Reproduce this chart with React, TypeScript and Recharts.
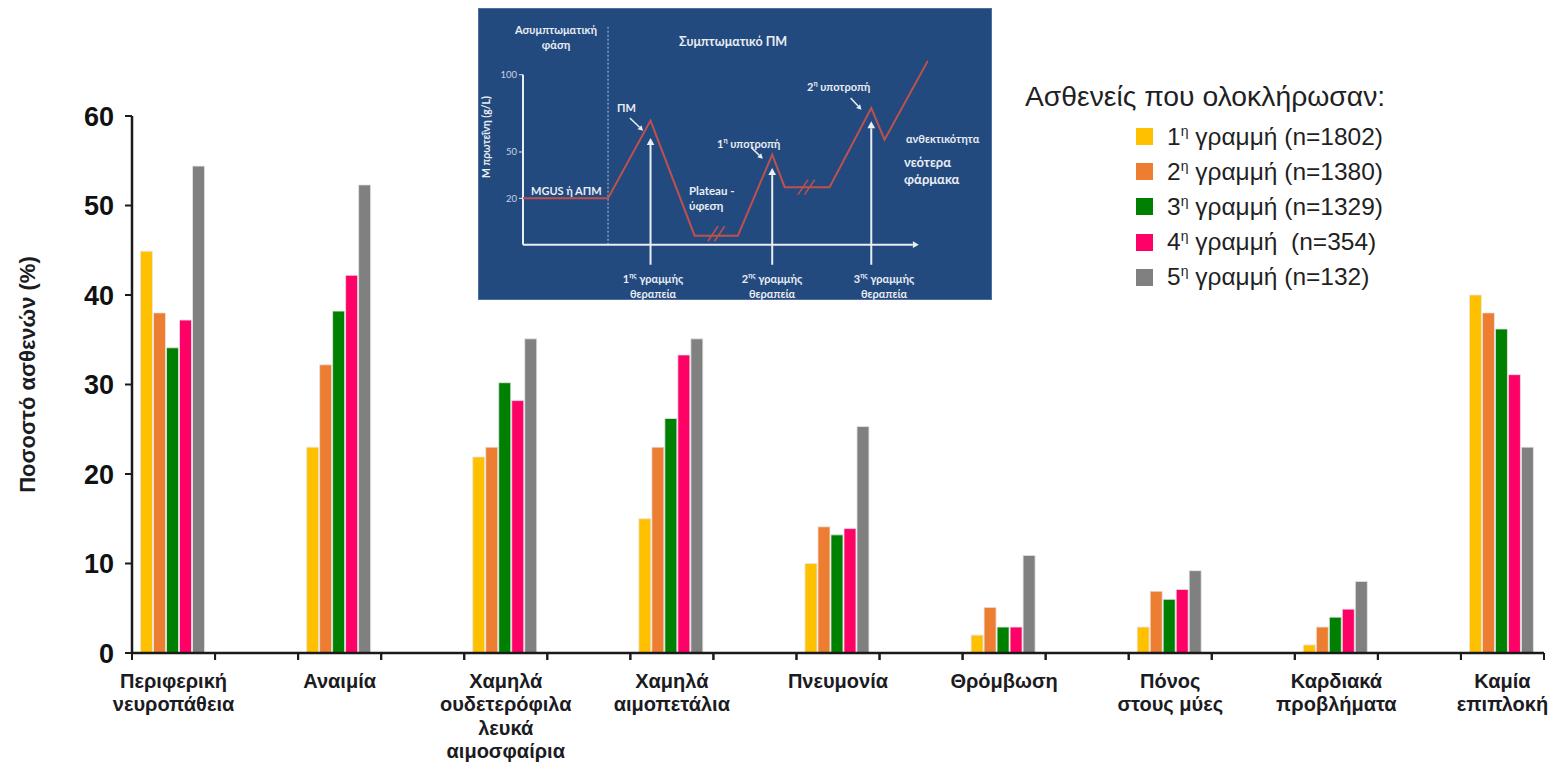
import React from 'react';
import { BarChart, Bar, XAxis, YAxis, LineChart, Line, ReferenceLine } from 'recharts';

// main chart data
const categories = [
  'Περιφερική\nνευροπάθεια',
  'Αναιμία',
  'Χαμηλά\nουδετερόφιλα\nλευκά\nαιμοσφαίρια',
  'Χαμηλά\nαιμοπετάλια',
  'Πνευμονία',
  'Θρόμβωση',
  'Πόνος\nστους μύες',
  'Καρδιακά\nπροβλήματα',
  'Καμία\nεπιπλοκή',
];
const line1 = [44.9, 23, 21.9, 15, 10, 2, 2.9, 0.9, 40];
const line2 = [38, 32.2, 23, 23, 14.1, 5.1, 6.9, 2.9, 38];
const line3 = [34.1, 38.2, 30.2, 26.2, 13.2, 2.9, 6, 4, 36.2];
const line4 = [37.2, 42.2, 28.2, 33.3, 13.9, 2.9, 7.1, 4.9, 31.1];
const line5 = [54.4, 52.3, 35.1, 35.1, 25.3, 10.9, 9.2, 8, 23];
const yTicks = [0, 10, 20, 30, 40, 50, 60];

const seriesKeys = ['s1', 's2', 's3', 's4', 's5'];
const seriesOrd = ['1', '2', '3', '4', '5'];
const seriesN = ['(n=1802)', '(n=1380)', '(n=1329)', ' (n=354)', '(n=132)'];
const seriesColors = ['#FFC000', '#ED7D31', '#008000', '#FF0066', '#808080'];
const seriesValues = [line1, line2, line3, line4, line5];

// inset (schematic of disease course)
const insetTime = [0, 21.8, 32.7, 44, 55.1, 63.9, 67.1, 78.6, 89.3, 92.7, 103.8];
const insetLevel = [20, 20, 70.3, -4.2, -4.2, 48.3, 27.2, 27.2, 78.5, 58, 109];
const insetTicks = [20, 50, 100];
const therapyTimes = [32.7, 63.9, 89.3];
const therapyTops = [59.1, 39.6, 69.9];
const pointerFrom = [[27.4, 72], [58.5, 53], [84, 85]];
const pointerTo = [[30.8, 63.8], [61.5, 45.7], [86.8, 77.4]];
const breakMarks = [[47.4, -7.8, 50, 1.9], [49.1, -7.8, 51.7, 1.9], [70.5, 22.4, 73.1, 32.1], [72.2, 22.4, 74.8, 32.1]];

// 17 slots: data groups with empty spacer slots between
const barData: any[] = [];
categories.forEach((c, i) => {
  const row: any = { name: c };
  seriesKeys.forEach((k, j) => (row[k] = seriesValues[j][i]));
  barData.push(row);
  if (i < categories.length - 1) barData.push({ name: '_' + i });
});

const insetData = insetTime.map((t, i) => ({ t, p: insetLevel[i] }));

const FONT = '"Liberation Sans", Arial, sans-serif';
const INSET_FONT = 'Lato, "Open Sans", sans-serif';
const AXIS = '#1a1a1a';
const WHITE = '#e9edf4';
const BAND = (1550 - 132 - 6) / 17;

// category label plus tick marks on both band edges
const CatTick = (props: any) => {
  const { x, y, payload } = props;
  const v = String(payload.value);
  const half = payload && payload.offset ? payload.offset : BAND / 2;
  const marks = (
    <g>
      <line x1={x - half} x2={x - half} y1={y} y2={y + 7} stroke={AXIS} strokeWidth={2} />
      <line x1={x + half} x2={x + half} y1={y} y2={y + 7} stroke={AXIS} strokeWidth={2} />
    </g>
  );
  if (v.startsWith('_')) return marks;
  const lines = v.split('\n');
  return (
    <g>
      {marks}
      <text x={x} y={y + 35} textAnchor="middle" fontFamily={FONT} fontSize={20} fontWeight="bold" fill="#1b1b22">
        {lines.map((l, i) => (
          <tspan key={i} x={x} dy={i === 0 ? 0 : 23.3}>{l}</tspan>
        ))}
      </text>
    </g>
  );
};

const YLabel = (props: any) => {
  const vb = props.viewBox || {};
  const cx = 27;
  const cy = vb.y + vb.height / 2 - 10;
  return (
    <text x={cx} y={cy} transform={`rotate(-90 ${cx} ${cy})`} textAnchor="middle" dominantBaseline="central"
      fontFamily={FONT} fontSize={22} fontWeight="bold" fill="#1b1b22">
      Ποσοστό ασθενών (%)
    </text>
  );
};

const LegendBox = () => (
  <div style={{ position: 'absolute', left: 1025, top: 80, fontFamily: FONT, color: '#1f1f24' }}>
    <div style={{ fontSize: 28.3, lineHeight: '32px', marginBottom: 7 }}>Ασθενείς που ολοκλήρωσαν:</div>
    {seriesKeys.map((k, i) => (
      <div key={k} style={{ display: 'flex', alignItems: 'center', height: 35.2, marginLeft: 111 }}>
        <span style={{ width: 17, height: 17, background: seriesColors[i], display: 'inline-block', marginRight: 14 }} />
        <span style={{ fontSize: 24.5, whiteSpace: 'pre' }}>
          {seriesOrd[i]}
          <sup style={{ fontSize: 14 }}>η</sup>
          {' γραμμή ' + seriesN[i]}
        </span>
      </div>
    ))}
  </div>
);

const arrowShape = (color: string, w: number, head: number) => (p: any) => {
  const { x1, y1, x2, y2 } = p;
  const a = Math.atan2(y2 - y1, x2 - x1);
  const bx = x2 - head * Math.cos(a);
  const by = y2 - head * Math.sin(a);
  const hw = head * 0.55;
  const pts = `${x2},${y2} ${bx + hw * Math.sin(a)},${by - hw * Math.cos(a)} ${bx - hw * Math.sin(a)},${by + hw * Math.cos(a)}`;
  return (
    <g>
      <line x1={x1} y1={y1} x2={bx} y2={by} stroke={color} strokeWidth={w} />
      <polygon points={pts} fill={color} />
    </g>
  );
};

const txt = (left: number, top: number, size: number, lh: number, extra: any = {}) => ({
  position: 'absolute' as const, left, top, fontSize: size, fontWeight: 'bold' as const, color: WHITE,
  fontFamily: INSET_FONT, lineHeight: lh + 'px', whiteSpace: 'nowrap' as const, ...extra,
});
const center = { transform: 'translateX(-50%)', textAlign: 'center' };

const Inset = () => (
  <div style={{ position: 'absolute', left: 478, top: 8, width: 514, height: 292, background: '#234a7e', boxSizing: 'border-box', border: '1px solid #4f6f9c' }}>
    <div style={{ position: 'absolute', left: -1, top: -1 }}>
      <LineChart width={514} height={292} data={insetData} margin={{ top: 12.7, right: 63.4, bottom: 33.7, left: 0 }}>
        <XAxis dataKey="t" type="number" domain={[0, 104]} hide allowDataOverflow />
        <YAxis type="number" domain={[-24, 135]} allowDataOverflow ticks={insetTicks} width={45} axisLine={false}
          tickSize={4} tickLine={{ stroke: WHITE }} tick={{ fill: '#c9d2e2', fontSize: 9.5, fontFamily: INSET_FONT }} />
        <ReferenceLine segment={[{ x: 21.8, y: -10 }, { x: 21.8, y: 131 }]} stroke="#b9c6da" strokeWidth={1} strokeDasharray="2 2" />
        <ReferenceLine segment={[{ x: 0, y: -10 }, { x: 0, y: 100 }]} stroke={WHITE} strokeWidth={2} />
        <ReferenceLine segment={[{ x: 0, y: -10 }, { x: 101.5, y: -10 }]} shape={arrowShape(WHITE, 2, 6)} />
        {therapyTimes.map((t, i) => (
          <ReferenceLine key={'th' + i} segment={[{ x: t, y: -23 }, { x: t, y: therapyTops[i] }]} shape={arrowShape(WHITE, 2, 7)} />
        ))}
        {pointerFrom.map((f, i) => (
          <ReferenceLine key={'pt' + i} segment={[{ x: f[0], y: f[1] }, { x: pointerTo[i][0], y: pointerTo[i][1] }]} shape={arrowShape(WHITE, 1.5, 5)} />
        ))}
        <Line dataKey="p" type="linear" stroke="#c0504d" strokeWidth={2} dot={false} isAnimationActive={false} />
        {breakMarks.map((b, i) => (
          <ReferenceLine key={'bk' + i} segment={[{ x: b[0], y: b[1] }, { x: b[2], y: b[3] }]} stroke="#c0504d" strokeWidth={1.5} />
        ))}
      </LineChart>
    </div>
    <div style={txt(77, 12.5, 11, 15, center)}>Ασυμπτωματική<br />φάση</div>
    <div style={txt(200, 25, 12.5, 16)}>Συμπτωματικό ΠΜ</div>
    <div style={txt(7, 128, 10.5, 12, { transform: 'translate(-50%, -50%) rotate(-90deg)' })}>M πρωτεΐνη (g/L)</div>
    <div style={txt(52, 174, 11, 16)}>MGUS ή ΑΠΜ</div>
    <div style={txt(138, 91, 11, 16)}>ΠΜ</div>
    <div style={txt(210, 174, 11.5, 15)}>Plateau -<br />ύφεση</div>
    <div style={txt(238, 122.7, 11, 16)}>1<sup style={{ fontSize: 7 }}>η</sup> υποτροπή</div>
    <div style={txt(328, 66, 11, 16)}>2<sup style={{ fontSize: 7 }}>η</sup> υποτροπή</div>
    <div style={txt(427, 121.7, 11, 16)}>ανθεκτικότητα</div>
    <div style={txt(425, 144.8, 13, 17)}>νεότερα<br />φάρμακα</div>
    {therapyTimes.map((t, i) => (
      <div key={'tl' + i} style={txt([174, 293, 405][i], 259, 11, 15, center)}>
        {i + 1}<sup style={{ fontSize: 7 }}>ης</sup> γραμμής<br />θεραπεία
      </div>
    ))}
  </div>
);

export default function App() {
  return (
    <div style={{ position: 'absolute', left: 0, top: 0, width: 1550, height: 763, background: '#fff', overflow: 'hidden' }}>
      <BarChart width={1550} height={763} data={barData} margin={{ top: 116, right: 6, bottom: 0, left: 0 }}
        barCategoryGap={8.5} barGap={1}>
        <XAxis dataKey="name" type="category" interval={0} height={110} tickLine={false} tickSize={0} tickMargin={0}
          axisLine={{ stroke: AXIS, strokeWidth: 2.5 }} tick={<CatTick />} />
        <YAxis domain={[0, 60]} ticks={yTicks} width={132} tickSize={7} tickMargin={11} allowDataOverflow
          axisLine={{ stroke: AXIS, strokeWidth: 2.5 }} tickLine={{ stroke: AXIS, strokeWidth: 2 }}
          tick={{ fill: '#111', fontSize: 27, fontWeight: 'bold', fontFamily: FONT }} label={<YLabel />} />
        {seriesKeys.map((k, i) => (
          <Bar key={k} dataKey={k} name={`${seriesOrd[i]}η γραμμή ${seriesN[i]}`} fill={seriesColors[i]}
            stroke="#e6e6e6" strokeWidth={0.8} isAnimationActive={false} />
        ))}
      </BarChart>
      <LegendBox />
      <Inset />
    </div>
  );
}
